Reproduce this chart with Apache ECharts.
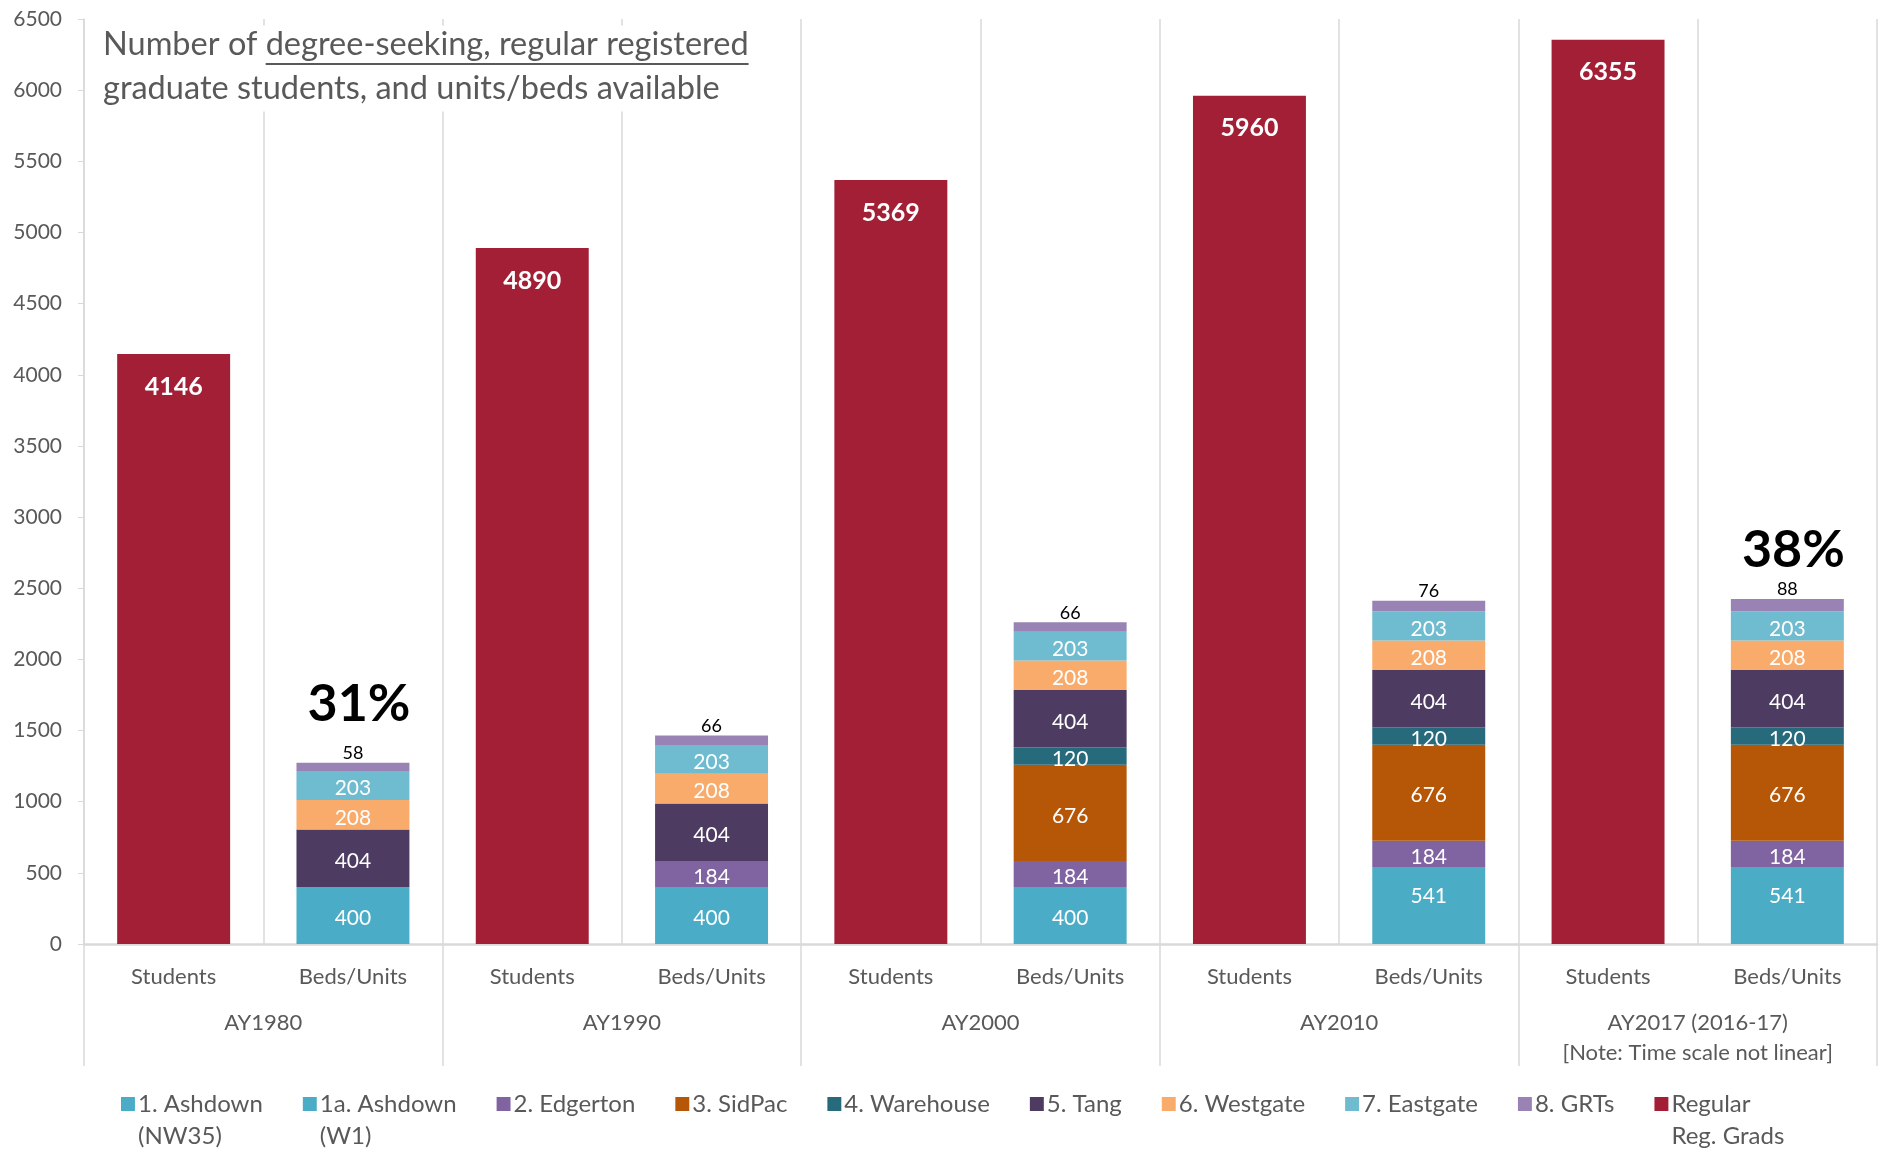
<!DOCTYPE html>
<html>
<head>
<meta charset="utf-8">
<script src="https://cdn.jsdelivr.net/npm/echarts@6/dist/echarts.min.js"></script>
<style>
html,body{margin:0;padding:0;background:#fff;}
#chart{width:1879px;height:1150px;}
</style>
</head>
<body>
<div id="chart"></div>
<script>
const categories = ['Students','Beds/Units','Students','Beds/Units','Students','Beds/Units','Students','Beds/Units','Students','Beds/Units'];
const years = ['AY1980','AY1990','AY2000','AY2010','AY2017 (2016-17)\n[Note: Time scale not linear]'];
const yTicks = {min: 0, max: 6500, interval: 500};

const regularGrads = [4146,'-',4890,'-',5369,'-',5960,'-',6355,'-'];
const ashdownNW35  = ['-',400,'-',400,'-',400,'-','-','-','-'];
const ashdownW1    = ['-','-','-','-','-','-','-',541,'-',541];
const edgerton     = ['-','-','-',184,'-',184,'-',184,'-',184];
const sidpac       = ['-','-','-','-','-',676,'-',676,'-',676];
const warehouse    = ['-','-','-','-','-',120,'-',120,'-',120];
const tang         = ['-',404,'-',404,'-',404,'-',404,'-',404];
const westgate     = ['-',208,'-',208,'-',208,'-',208,'-',208];
const eastgate     = ['-',203,'-',203,'-',203,'-',203,'-',203];
const grts         = ['-',58,'-',66,'-',66,'-',76,'-',88];
const shareLabels  = ['','31%','','','','','','','','38%'];

const FONT = 'Lato';
const GREY = '#595959';
const LINE = '#d9d9d9';
const TITLE_SIZE = 32.5;
const TITLE_X = 103;

// measure title pieces for the underline decoration
const mctx = document.createElement('canvas').getContext('2d');
mctx.font = TITLE_SIZE + 'px ' + FONT;
const ulStart = TITLE_X + mctx.measureText('Number of ').width;
const ulEnd = ulStart + mctx.measureText('degree-seeking, regular registered').width;

function segSeries(name, data, color, offsetY) {
  return {
    name, type: 'bar', stack: 'a', barWidth: '63%', data,
    itemStyle: {color},
    label: {show: true, position: 'inside', offset: [0, offsetY], color: '#fff', fontSize: 21, fontFamily: FONT}
  };
}

const series = [
  segSeries('1. Ashdown\n(NW35)', ashdownNW35, '#4AACC6', 3),
  segSeries('1a. Ashdown\n(W1)', ashdownW1, '#4BACC6', -9),
  segSeries('2. Edgerton', edgerton, '#8064A2', 3),
  segSeries('3. SidPac', sidpac, '#B65708', 3),
  segSeries('4. Warehouse', warehouse, '#276A7C', 3),
  segSeries('5. Tang', tang, '#4D3B62', 3),
  segSeries('6. Westgate', westgate, '#F9AB6B', 3),
  segSeries('7. Eastgate', eastgate, '#6FBBCF', 3),
  {
    name: '8. GRTs', type: 'bar', stack: 'a', barWidth: '63%', data: grts,
    itemStyle: {color: '#9983B5'},
    label: {
      show: true, position: 'top', distance: 0,
      formatter: p => {
        const s = shareLabels[p.dataIndex];
        if (!s) return '{v|' + p.value + '}';
        return '{' + (p.dataIndex < 5 ? 'p1' : 'p2') + '|' + s + '}\n{v|' + p.value + '}';
      },
      rich: {
        p1: {fontSize: 52, fontWeight: 'bold', color: '#000', lineHeight: 79, fontFamily: FONT, padding: [0, 0, 0, 12]},
        p2: {fontSize: 52, fontWeight: 'bold', color: '#000', lineHeight: 59, fontFamily: FONT, padding: [0, 0, 0, 12]},
        v: {fontSize: 18, color: '#000', lineHeight: 19, fontFamily: FONT}
      }
    }
  },
  {
    name: 'Regular\nReg. Grads', type: 'bar', stack: 'a', barWidth: '63%', data: regularGrads,
    itemStyle: {color: '#A21F35'},
    label: {show: true, position: 'insideTop', distance: 20, color: '#fff', fontSize: 25, fontWeight: 'bold', fontFamily: FONT}
  }
];

const chart = echarts.init(document.getElementById('chart'));
chart.setOption({
  animation: false,
  textStyle: {fontFamily: FONT},
  grid: {left: 84, right: 2, top: 19, bottom: 206, containLabel: false},
  title: {
    left: 86, top: 20,
    padding: [3, 14, 6, TITLE_X - 86],
    backgroundColor: '#fff',
    text: '{a|Number of degree-seeking, regular registered}\n{a|graduate students, and units/beds available}',
    textStyle: {
      fontWeight: 'normal',
      rich: {
        a: {fontSize: TITLE_SIZE, fontWeight: 'normal', color: GREY, fontFamily: FONT, lineHeight: 44}
      }
    }
  },
  graphic: [{
    type: 'line', z: 100,
    shape: {x1: ulStart, y1: 64, x2: ulEnd, y2: 64},
    style: {stroke: GREY, lineWidth: 2}
  }],
  legend: {
    left: 121, top: 1088, padding: 0,
    itemGap: 40, itemWidth: 14, itemHeight: 46,
    icon: 'path://M0,0H10V10H0Z M0,33H0.01V33.01Z',
    formatter: name => name.indexOf('\n') < 0 ? name + '\n ' : name,
    textStyle: {fontSize: 24, color: GREY, fontFamily: FONT, lineHeight: 32, padding: [0, 0, 0, -2]},
    selectedMode: false
  },
  xAxis: [{
    type: 'category', data: categories, position: 'bottom',
    axisLine: {lineStyle: {color: LINE, width: 2.5}},
    axisTick: {show: false},
    axisLabel: {color: GREY, fontSize: 22, margin: 22, fontFamily: FONT, interval: 0},
    splitLine: {show: true, interval: 0, lineStyle: {color: LINE, width: 1.5}}
  }, {
    type: 'category', data: years, position: 'bottom', offset: 0, gridIndex: 0,
    axisLine: {show: false},
    axisTick: {show: true, length: 122, interval: 0, lineStyle: {color: LINE, width: 1.5}},
    axisLabel: {color: GREY, fontSize: 22, margin: 64, lineHeight: 30, fontFamily: FONT, interval: 0},
    splitLine: {show: false}
  }],
  yAxis: {
    type: 'value', min: yTicks.min, max: yTicks.max, interval: yTicks.interval,
    axisLine: {show: true, lineStyle: {color: LINE, width: 1.5}},
    axisTick: {show: true, length: 6, lineStyle: {color: LINE}},
    axisLabel: {color: GREY, fontSize: 21, margin: 22, fontFamily: FONT, formatter: v => String(v)},
    splitLine: {show: false}
  },
  series
});
</script>
</body>
</html>
